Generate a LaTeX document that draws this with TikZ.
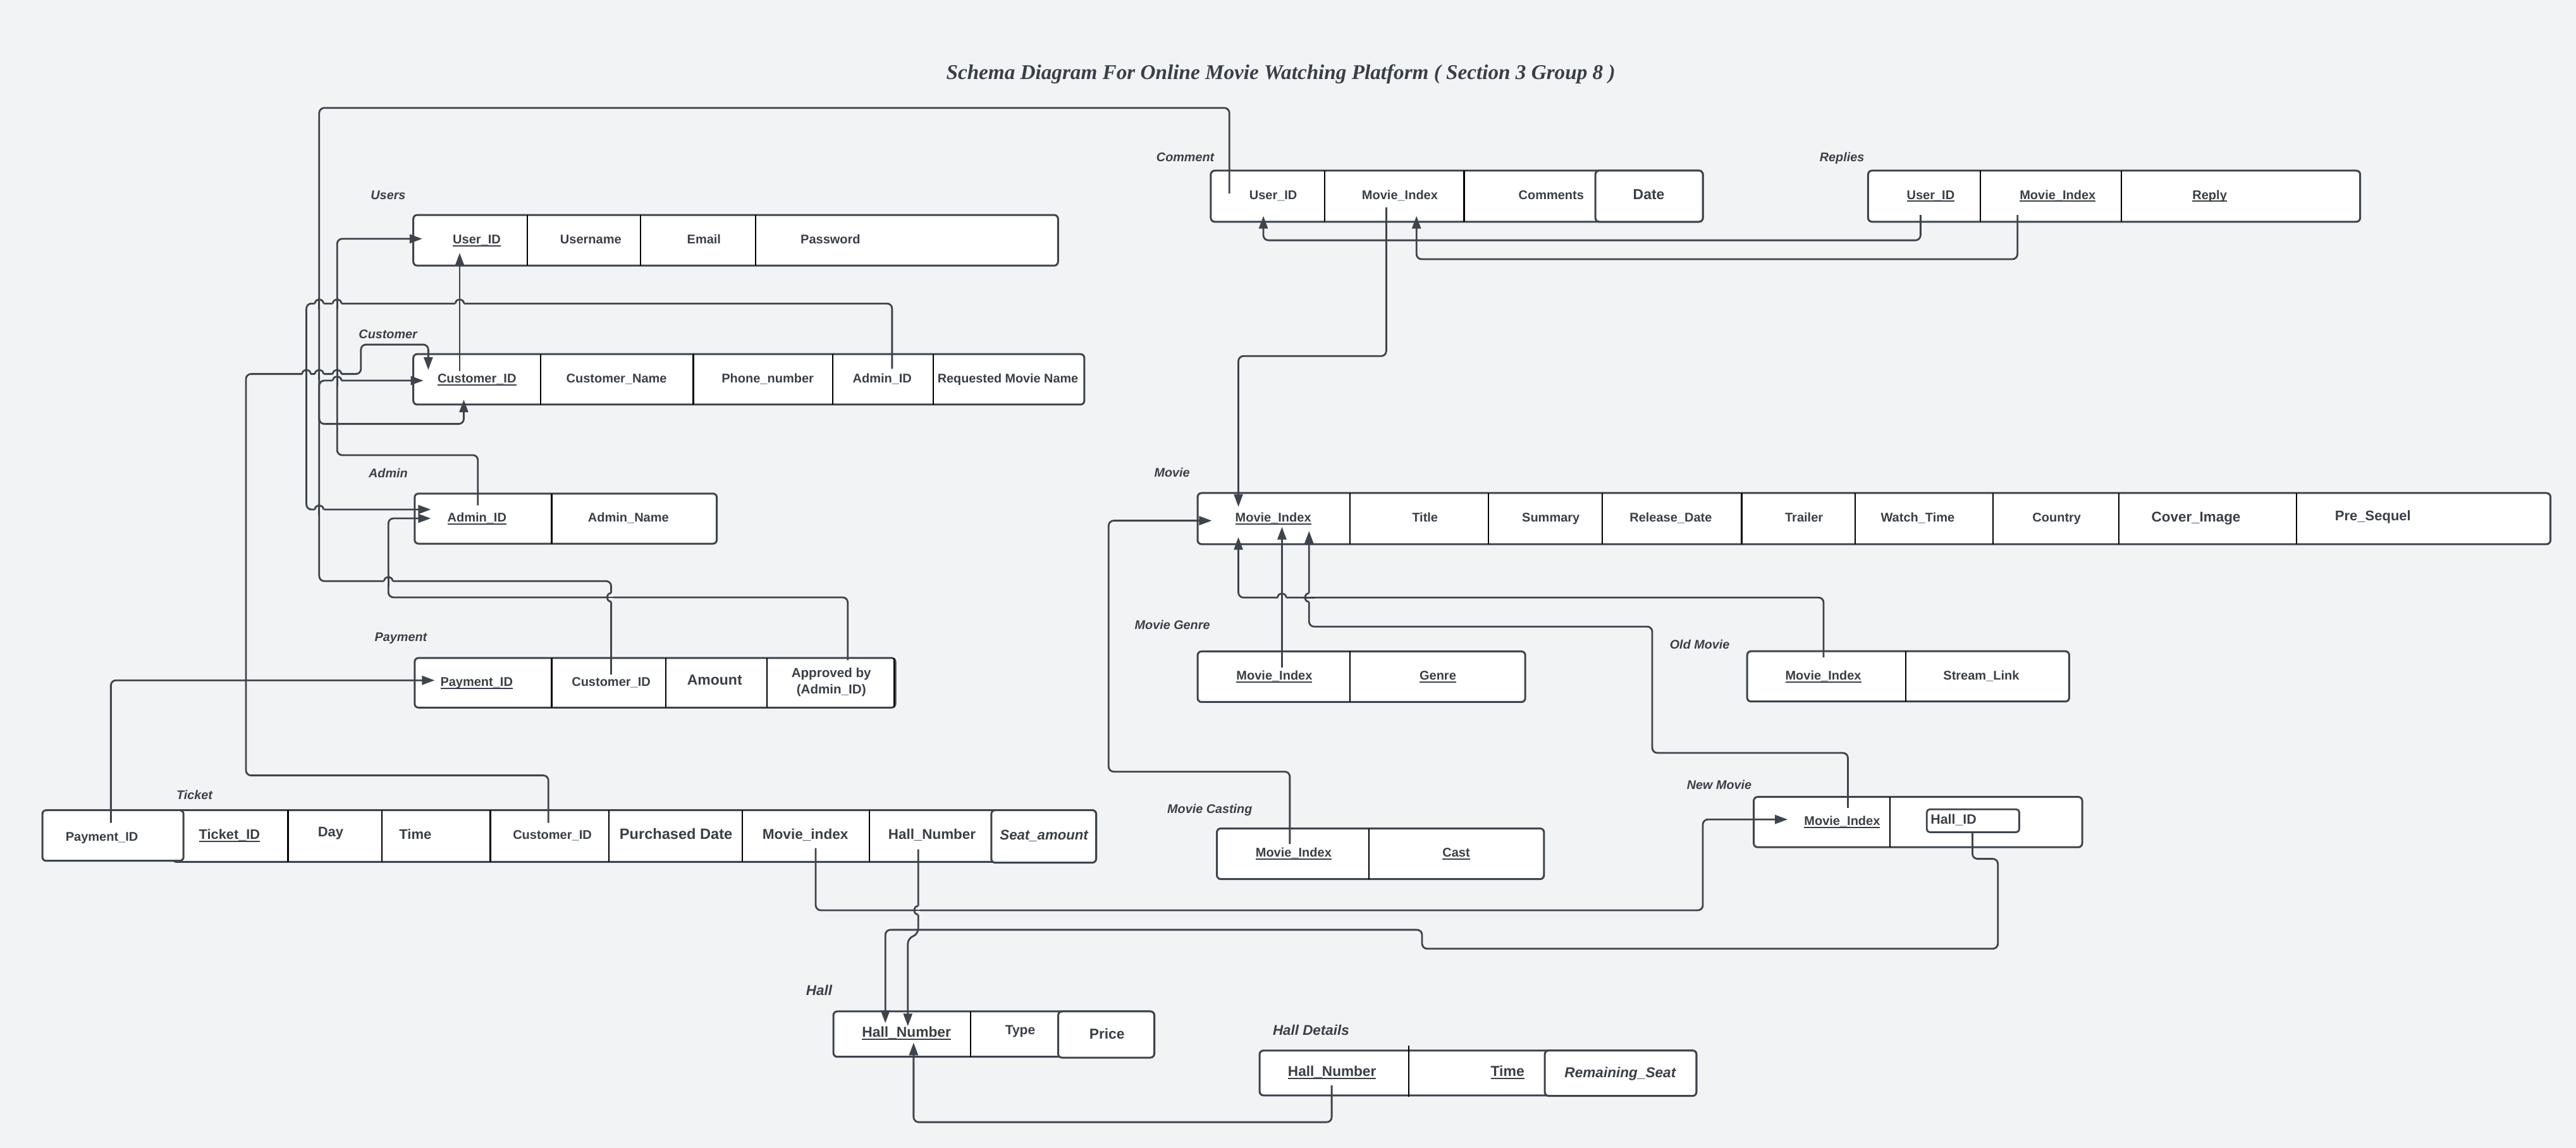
\documentclass[tikz,border=0pt]{standalone}
\usepackage{fontspec}
\usepackage{graphicx}
\setmainfont{Liberation Sans}
\newfontfamily\ttlfont{Liberation Serif}
\newcommand\uline[1]{\setbox0\hbox{#1}\dimen0=\wd0\relax\rlap{\box0}\rule[-2.1pt]{\dimen0}{1pt}}
\usetikzlibrary{arrows.meta,fit,calc}
\definecolor{bg}{HTML}{F2F3F5}
\definecolor{ln}{HTML}{3E444C}
\definecolor{tx}{HTML}{3A3F47}
\tikzset{
  tbl/.style={draw=ln, line width=1.5pt, fill=white, rounded corners=3pt, inner sep=0pt},
  dv/.style={draw=black, line width=1.1pt},
  conn/.style={draw=ln, line width=1.4pt, rounded corners=4pt},
  arr/.style={conn, -{Triangle[length=10pt,width=7pt]}},
  hopln/.style={draw=ln, line width=1.4pt},
  txt/.style={text=tx, inner sep=0pt, anchor=mid, yshift=-1.1pt, font=\fontsize{10}{12}\selectfont\bfseries},
  fs/.style={font=\fontsize{#1}{14}\selectfont\bfseries},
  fsbi/.style={font=\fontsize{#1}{14}\selectfont\bfseries\itshape},
  lbl/.style={text=tx, inner sep=0pt, anchor=mid, yshift=-1pt, font=\fontsize{9.9}{12}\selectfont\bfseries\itshape},
}
\newcommand\dvs[3]{\foreach \xx in {#1} {\draw[dv] (\xx,#2) -- (\xx,#3);}}
\newcommand\hoph[2]{%
  \fill[bg] ({#1-2.6},{#2-1.25}) rectangle ({#1+2.6},{#2+1.25});
  \draw[hopln] ({#1-2.6},#2) .. controls ({#1-2.6},{#2-3.2}) and ({#1+2.6},{#2-3.2}) .. ({#1+2.6},#2);
  \draw[hopln] (#1,{#2-3.4}) -- (#1,{#2+3.4});}
\newcommand\hopv[2]{%
  \fill[bg] ({#1-1.25},{#2-2.6}) rectangle ({#1+1.25},{#2+2.6});
  \draw[hopln] (#1,{#2-2.6}) .. controls ({#1-3.2},{#2-2.6}) and ({#1-3.2},{#2+2.6}) .. (#1,{#2+2.6});
  \draw[hopln] ({#1-3.4},#2) -- ({#1+3.4},#2);}
\begin{document}
\begin{tikzpicture}[x=1.299107pt,y=-1.299107pt]
\fill[bg] (0,0) rectangle (1568,698.94);
\useasboundingbox (0,0) rectangle (1568,698.94);

% ---------------- title
\node[text=tx, inner sep=0pt] (title) at (779.6,45.3)
  {\resizebox{529pt}{!}{\ttlfont\fontsize{17}{20}\selectfont\bfseries\itshape Schema Diagram For Online Movie Watching Platform ( Section 3 Group 8 )}};

% ---------------- tables
% Users
\node[tbl, fit={(251.6,130.9)(644,161.7)}] (users) {};
\dvs{321,390,460}{130.9}{161.7}
% Customer
\node[tbl, fit={(251.6,215.6)(660,246.3)}] (customer) {};
\dvs{329,422,507,568}{215.6}{246.3}
% Admin
\node[tbl, fit={(252.4,300.5)(436.3,331)}] (admin) {};
\dvs{335.8}{300.5}{331}
% Payment
\node[tbl, fit={(252.4,400.6)(545,430.8)}] (payment) {};
\dvs{335.8,405.2,467,544.3}{400.6}{430.8}
% Ticket
\node[tbl, fit={(105,493.3)(667.2,524.7)}] (ticket) {};
\dvs{175.3,232.5,298.5,370.7,451.9,529.3}{493.3}{524.7}
\node[tbl, fit={(25.8,493.3)(111.7,524.1)}] (tk-paybox) {};
\node[tbl, fit={(603.4,493.3)(667.2,525.2)}] (tk-seatbox) {};
% Hall
\node[tbl, fit={(507.3,615.8)(702.6,643.4)}] (hall) {};
\dvs{590.7}{615.8}{643.4}
\node[tbl, fit={(644.1,615.8)(702.6,643.9)}] (hl-pricebox) {};
% Hall Details
\node[tbl, fit={(766.7,639.6)(1032.6,666.9)}] (halldet) {};
\dvs{857.4}{636.6}{667.8}
\node[tbl, fit={(940.3,639.6)(1032.6,667.2)}] (hd-rembox) {};
% Comment
\node[tbl, fit={(737,103.9)(1036.5,135)}] (comment) {};
\dvs{806.2,891.2}{103.9}{135}
\node[tbl, fit={(971.1,103.9)(1036.5,135)}] (cm-datebox) {};
% Replies
\node[tbl, fit={(1137.1,103.9)(1436.6,135)}] (replies) {};
\dvs{1205.3,1291.3}{103.9}{135}
% Movie
\node[tbl, fit={(729,300.2)(1552.4,331.3)}] (movie) {};
\dvs{821.8,906.1,975.3,1060.1,1129.3,1213.1,1289.6,1397.8}{300.2}{331.3}
% Movie Genre
\node[tbl, fit={(729,396.6)(928.4,427.4)}] (genre) {};
\dvs{821.6}{396.6}{427.4}
% Old Movie
\node[tbl, fit={(1063.5,396.5)(1259.5,427.1)}] (oldmovie) {};
\dvs{1160}{396.5}{427.1}
% Movie Casting
\node[tbl, fit={(740.7,504.4)(939.8,535.2)}] (casting) {};
\dvs{833.4}{504.4}{535.2}
% New Movie
\node[tbl, fit={(1067.5,485.2)(1267.4,515.8)}] (newmovie) {};
\dvs{1150.4}{485.2}{515.8}
\node[tbl, line width=1.4pt, rounded corners=2.5pt, fit={(1172.8,492.7)(1229.1,506.7)}] (nm-hallbox) {};

% ---------------- connectors
% Comment.User_ID -> Customer.Customer_ID
\coordinate (a1s) at (748.3,117.8); \coordinate (a1e) at (282.3,243.3);
\draw[arr] (a1s) -- (748.3,65.7) -- (194.3,65.7) -- (194.3,258.1) -- (282.3,258.1) -- (a1e);
% Payment.Customer_ID -> Customer.Customer_ID
\coordinate (a2s) at (372,410.6); \coordinate (a2e) at (257.7,231.7);
\draw[arr] (a2s) -- (372,353.8) -- (194.3,353.8) -- (194.3,231.7) -- (a2e);
% Customer.Admin_ID -> Admin.Admin_ID
\coordinate (bs) at (543,224.5); \coordinate (be) at (262.2,310.2);
\draw[arr] (bs) -- (543,184.8) -- (186.5,184.8) -- (186.5,310.2) -- (be);
% Admin.Admin_ID -> Users.User_ID
\coordinate (cs) at (290.9,307.7); \coordinate (ce) at (257,145.4);
\draw[arr] (cs) -- (290.9,277.1) -- (205.2,277.1) -- (205.2,145.4) -- (ce);
% Ticket.Customer_ID -> Customer.Customer_ID
\coordinate (ds) at (333.8,501); \coordinate (de) at (260.7,225.2);
\draw[arr] (ds) -- (333.8,472.1) -- (149.7,472.1) -- (149.7,227.7) -- (219.7,227.7) -- (219.7,209.8) -- (260.7,209.8) -- (de);
% Customer.Customer_ID -> Users.User_ID
\coordinate (fs) at (279.8,225.8); \coordinate (fe) at (279.8,154);
\draw[arr] (fs) -- (fe);
% Payment.Approved by -> Admin.Admin_ID
\coordinate (gs) at (516,402); \coordinate (ge) at (262.2,315.6);
\draw[arr] (gs) -- (516,363.7) -- (236.4,363.7) -- (236.4,315.6) -- (ge);
% Ticket.Payment_ID -> Payment.Payment_ID
\coordinate (hs) at (67.5,501); \coordinate (he) at (264.6,414.2);
\draw[arr] (hs) -- (67.5,414.2) -- (he);
% Comment.Movie_Index -> Movie.Movie_Index
\coordinate (is) at (843.8,126.3); \coordinate (ie) at (753.8,308.6);
\draw[arr] (is) -- (843.8,216.8) -- (753.8,216.8) -- (ie);
% Replies.User_ID -> Comment.User_ID
\coordinate (js) at (1169,130.9); \coordinate (je) at (769,131.5);
\draw[arr] (js) -- (1169,146.3) -- (769,146.3) -- (je);
% Replies.Movie_Index -> Comment.Movie_Index
\coordinate (ks) at (1228,130.9); \coordinate (ke) at (862.2,131.5);
\draw[arr] (ks) -- (1228,157.8) -- (862.2,157.8) -- (ke);
% Genre.Movie_Index -> Movie.Movie_Index
\coordinate (ls) at (780.3,406.5); \coordinate (le) at (780.3,320.8);
\draw[arr] (ls) -- (le);
% Old Movie.Movie_Index -> Movie.Movie_Index
\coordinate (ms) at (1110,400.2); \coordinate (me) at (753.8,327);
\draw[arr] (ms) -- (1110,363.8) -- (753.8,363.8) -- (me);
% New Movie.Movie_Index -> Movie.Movie_Index
\coordinate (ns) at (1124.8,491.9); \coordinate (ne) at (796.8,323.3);
\draw[arr] (ns) -- (1124.8,458.4) -- (1005.7,458.4) -- (1005.7,381.5) -- (796.8,381.5) -- (ne);
% Casting.Movie_Index -> Movie.Movie_Index
\coordinate (os) at (785.1,513.9); \coordinate (oe) at (737.6,317);
\draw[arr] (os) -- (785.1,469.8) -- (674.8,469.8) -- (674.8,317) -- (oe);
% Ticket.Movie_index -> New Movie.Movie_Index
\coordinate (ps) at (496.5,516.4); \coordinate (pe) at (1088.1,498.9);
\draw[arr] (ps) -- (496.5,554.2) -- (1036.5,554.2) -- (1036.5,498.9) -- (pe);
% Ticket.Hall_Number -> Hall.Hall_Number
\coordinate (qs) at (558.9,517.1); \coordinate (qe) at (552.6,624.8);
\draw[arr] (qs) -- (558.9,568.5) -- (552.6,571.5) -- (qe);
% New Movie.Hall_ID -> Hall.Hall_Number
\coordinate (rs) at (1200.6,506.9); \coordinate (re) at (538.9,622.9);
\draw[arr] (rs) -- (1200.6,522.9) -- (1216.1,522.9) -- (1216.1,577.6) -- (865.6,577.6) -- (865.6,566.1) -- (538.9,566.1) -- (re);
% Hall Details.Hall_Number -> Hall.Hall_Number
\coordinate (ss) at (810.6,660.8); \coordinate (se) at (556.1,634.8);
\draw[arr] (ss) -- (810.6,683.2) -- (556.1,683.2) -- (se);

% line jumps
\hoph{194.3}{184.8}\hoph{205.2}{184.8}\hoph{279.8}{184.8}
\hoph{186.5}{227.7}\hoph{194.3}{227.7}\hoph{205.2}{227.7}
\hoph{205.2}{231.7}
\hoph{194.3}{310.2}
\hoph{236.4}{353.8}
\hopv{372}{363.7}
\hoph{780.3}{363.8}
\hopv{796.8}{363.8}
\hopv{558.9}{554.2}

% ---------------- table labels
\node[lbl] (l-users) at (236.3,118.7) {Users};
\node[lbl] (l-customer) at (236.2,203.4) {Customer};
\node[lbl] (l-admin) at (236.3,288) {Admin};
\node[lbl] (l-payment) at (244,387.5) {Payment};
\node[lbl] (l-ticket) at (118.4,483.7) {Ticket};
\node[lbl, fsbi=11.2] (l-hall) at (498.6,603) {Hall};
\node[lbl, fsbi=11.2] (l-halldet) at (798,627.4) {Hall Details};
\node[lbl] (l-comment) at (721.5,95.6) {Comment};
\node[lbl] (l-replies) at (1121.2,95.6) {Replies};
\node[lbl] (l-movie) at (713.4,287.7) {Movie};
\node[lbl] (l-genre) at (713.6,380.2) {Movie Genre};
\node[lbl] (l-old) at (1034.6,392.4) {Old Movie};
\node[lbl] (l-new) at (1046.5,477.6) {New Movie};
\node[lbl] (l-cast) at (736.4,492.3) {Movie Casting};

% ---------------- cell texts
% Users
\node[txt] (u-id) at (290.2,145.5) {\uline{User\_ID}};
\node[txt] (u-name) at (359.6,145.5) {Username};
\node[txt] (u-mail) at (428.5,145.5) {Email};
\node[txt] (u-pw) at (505.5,145.5) {Password};
% Customer
\node[txt] (c-id) at (290.3,230.2) {\uline{Customer\_ID}};
\node[txt] (c-name) at (375.3,230.2) {Customer\_Name};
\node[txt] (c-phone) at (467.3,230.2) {Phone\_number};
\node[txt] (c-admin) at (537,230.2) {Admin\_ID};
\node[txt, fs=9.9] (c-req) at (613.5,230.2) {Requested Movie Name};
% Admin
\node[txt] (ad-id) at (290.3,315) {\uline{Admin\_ID}};
\node[txt] (ad-name) at (382.5,315) {Admin\_Name};
% Payment
\node[txt] (p-id) at (290.1,415) {\uline{Payment\_ID}};
\node[txt] (p-cust) at (372,415) {Customer\_ID};
\node[txt, fs=11.5] (p-amt) at (435,414) {Amount};
\node[txt, anchor=center, yshift=0pt, align=center, font=\fontsize{10.3}{12.8}\selectfont\bfseries] (p-appr) at (506,414.5) {Approved by\\(Admin\_ID)};
% Ticket
\node[txt, fs=10] (t-pay) at (62,509.3) {Payment\_ID};
\node[txt, fs=10.9] (t-id) at (139.7,508) {\uline{Ticket\_ID}};
\node[txt, fs=11] (t-day) at (201.3,506.5) {Day};
\node[txt, fs=11] (t-time) at (252.8,508) {Time};
\node[txt] (t-cust) at (336.2,508) {Customer\_ID};
\node[txt, fs=11.8] (t-date) at (411.5,508) {Purchased Date};
\node[txt, fs=11.3] (t-movie) at (490.2,508) {Movie\_index};
\node[txt, fs=11.2] (t-hall) at (567.3,508) {Hall\_Number};
\node[txt, fsbi=11.1] (t-seat) at (635.5,508.3) {Seat\_amount};
% Hall
\node[txt, fs=11.4] (h-num) at (551.8,628.6) {\uline{Hall\_Number}};
\node[txt, fs=10.5] (h-type) at (621,627) {Type};
\node[txt, fs=11.4] (h-price) at (673.8,629.7) {Price};
% Hall Details
\node[txt, fs=11.3] (hd-num) at (810.8,652.4) {\uline{Hall\_Number}};
\node[txt, fs=11.5] (hd-time) at (917.6,652.4) {\uline{Time}};
\node[txt, fsbi=11.3] (hd-rem) at (986.2,653.2) {Remaining\_Seat};
% Comment
\node[txt] (cm-uid) at (775,118.4) {User\_ID};
\node[txt] (cm-mid) at (852.1,118.4) {Movie\_Index};
\node[txt] (cm-txt) at (944.2,118.4) {Comments};
\node[txt, fs=11.5] (cm-date) at (1003.6,118.4) {Date};
% Replies
\node[txt] (r-uid) at (1175.2,118.4) {\uline{User\_ID}};
\node[txt] (r-mid) at (1252.5,118.4) {\uline{Movie\_Index}};
\node[txt] (r-reply) at (1345,118.4) {\uline{Reply}};
% Movie
\node[txt] (m-id) at (775,315) {\uline{Movie\_Index}};
\node[txt] (m-title) at (867.4,315) {Title};
\node[txt] (m-sum) at (944,315) {Summary};
\node[txt] (m-rel) at (1017,315) {Release\_Date};
\node[txt] (m-trl) at (1098.1,315) {Trailer};
\node[txt] (m-wt) at (1167.3,315) {Watch\_Time};
\node[txt] (m-cty) at (1251.9,315) {Country};
\node[txt, fs=11.2] (m-cov) at (1336.7,315) {Cover\_Image};
\node[txt, fs=11] (m-pre) at (1444.4,314) {Pre\_Sequel};
% Movie Genre
\node[txt] (g-id) at (775.7,411.2) {\uline{Movie\_Index}};
\node[txt] (g-genre) at (875.2,411.2) {\uline{Genre}};
% Old Movie
\node[txt] (o-id) at (1109.8,411.2) {\uline{Movie\_Index}};
\node[txt] (o-link) at (1206,411.2) {Stream\_Link};
% Movie Casting
\node[txt] (mc-id) at (787.4,519) {\uline{Movie\_Index}};
\node[txt] (mc-cast) at (886.4,519) {\uline{Cast}};
% New Movie
\node[txt] (nm-id) at (1121.3,499.6) {\uline{Movie\_Index}};
\node[txt, fs=10.7, anchor=mid west] (nm-hall) at (1175,498.9) {Hall\_ID};
\end{tikzpicture}
\end{document}
